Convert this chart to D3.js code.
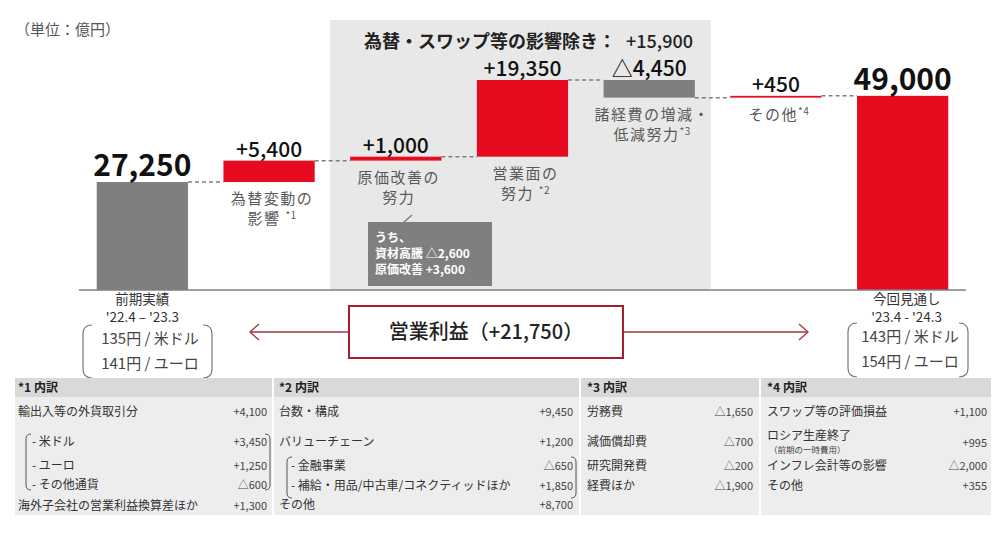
<!DOCTYPE html>
<html><head><meta charset="utf-8">
<script src="https://cdn.jsdelivr.net/npm/d3@7"></script>
<style>
body{margin:0;background:#fff;}
svg{display:block;font-family:"Noto Sans CJK JP","Noto Sans",sans-serif;}
</style>
</head><body><svg id="c" width="1000" height="540"></svg>
<script>
// ---------- data ----------
const categories = ["前期実績","為替変動の影響","原価改善の努力","営業面の努力","諸経費の増減・低減努力","その他","今回見通し"];
const deltas = [27250, 5400, 1000, 19350, -4450, 450, 49000];
const barTypes = ["total","delta","delta","delta","delta","delta","total"];
const valueLabels = ["27,250","+5,400","+1,000","+19,350","△4,450","+450","49,000"];
const catLabelLines = [
  [],
  [["為替変動の",""],["影響 ","*1"]],
  [["原価改善の",""],["努力",""]],
  [["営業面の",""],["努力 ","*2"]],
  [["諸経費の増減・",""],["低減努力","*3"]],
  [["その他","*4"]],
  []
];
const shadedTitle = "為替・スワップ等の影響除き：";
const shadedValue = "+15,900";
const calloutLines = ["うち、","資材高騰 △2,600","原価改善 +3,600"];
const prevLabels = ["前期実績","'22.4 – '23.3"];
const prevRates = ["135円 / 米ドル","141円 / ユーロ"];
const currLabels = ["今回見通し","'23.4 - '24.3"];
const currRates = ["143円 / 米ドル","154円 / ユーロ"];
const profitLabel = "営業利益（+21,750）";
const unitLabel = "（単位：億円）";

const tableTitles = ["*1 内訳","*2 内訳","*3 内訳","*4 内訳"];
const table1 = [["輸出入等の外貨取引分","+4,100",0],["- 米ドル","+3,450",1],["- ユーロ","+1,250",1],["- その他通貨","△600",1],["海外子会社の営業利益換算差ほか","+1,300",0]];
const table2 = [["台数・構成","+9,450",0],["バリューチェーン","+1,200",0],["- 金融事業","△650",1],["- 補給・用品/中古車/コネクティッドほか","+1,850",1],["その他","+8,700",0]];
const table3 = [["労務費","△1,650",0],["減価償却費","△700",0],["研究開発費","△200",0],["経費ほか","△1,900",0]];
const table4 = [["スワップ等の評価損益","+1,100",0],["ロシア生産終了","+995",0],["インフレ会計等の影響","△2,000",0],["その他","+355",0]];
const table4Note = "（前期の一時費用）";

// ---------- layout ----------
const svg = d3.select("#c");
const RED = "#e60b1e", GRAY = "#7f7f7f", TXT = "#595959";
const x = d3.scaleBand().domain(categories).range([79, 966]).paddingInner(0.28).paddingOuter(0.14);
const y = d3.scaleLinear().domain([0, 53000]).range([290, 80]);
const bw = x.bandwidth();

// compute waterfall
let run = 0;
const bars = categories.map((c, i) => {
  let s, e;
  if (barTypes[i] === "total") { s = 0; e = deltas[i]; run = deltas[i]; }
  else { s = run; e = run + deltas[i]; run = e; }
  return {c, i, s, e, v: deltas[i]};
});

// shaded region
const shX0 = x(categories[2]) - 20, shX1 = x(categories[4]) + bw + 16;
svg.append("rect").attr("x", shX0).attr("y", 20).attr("width", shX1 - shX0).attr("height", y(0) - 20).attr("fill", "#e8e8e8");
svg.append("text").attr("x", 364).attr("y", 48).attr("font-size", 18).attr("font-weight", 700).attr("fill", "#222").text(shadedTitle);
svg.append("text").attr("x", 693).attr("y", 48).attr("text-anchor", "end").attr("font-size", 18).attr("font-weight", 500).attr("fill", "#222").text(shadedValue);

// unit
svg.append("text").attr("x", 15).attr("y", 35).attr("font-size", 15).attr("fill", "#555").text(unitLabel);

// connectors
for (let i = 0; i < bars.length - 1; i++) {
  const lvl = bars[i].e;
  svg.append("line").attr("x1", x(bars[i].c) + bw).attr("x2", x(bars[i+1].c))
    .attr("y1", y(lvl)).attr("y2", y(lvl))
    .attr("stroke", GRAY).attr("stroke-width", 1.5).attr("stroke-dasharray", "4,3");
}

// bars
svg.selectAll("rect.bar").data(bars).enter().append("rect").attr("class","bar")
  .attr("x", d => x(d.c)).attr("width", bw)
  .attr("y", d => y(Math.max(d.s, d.e)))
  .attr("height", d => Math.abs(y(d.s) - y(d.e)))
  .attr("fill", d => (d.i === 0 || d.v < 0) ? GRAY : RED);

// baseline
svg.append("line").attr("x1", 79).attr("x2", 966).attr("y1", y(0)).attr("y2", y(0)).attr("stroke", "#7f7f7f").attr("stroke-width", 1.5);

// value labels
svg.selectAll("text.val").data(bars).enter().append("text").attr("class","val")
  .attr("x", d => x(d.c) + bw/2)
  .attr("y", d => y(Math.max(d.s, d.e)) - (barTypes[d.i] === "total" ? 6 : 4))
  .attr("text-anchor", "middle")
  .attr("font-size", d => barTypes[d.i] === "total" ? 30 : 21)
  .attr("font-weight", d => barTypes[d.i] === "total" ? 700 : 500)
  .attr("fill", "#111")
  .text((d) => valueLabels[d.i]);

// category labels below bars
bars.forEach(d => {
  const lines = catLabelLines[d.i];
  const base = y(Math.min(d.s, d.e));
  lines.forEach((ln, k) => {
    const t = svg.append("text").attr("x", x(d.c) + bw/2 + 3).attr("y", base + 22 + k*20)
      .attr("text-anchor", "middle").attr("font-size", 15).attr("letter-spacing", 1.5).attr("fill", TXT);
    t.append("tspan").text(ln[0]);
    if (ln[1]) t.append("tspan").attr("font-size", 10).attr("dy", -5).attr("letter-spacing", 0.5).text(ln[1]);
  });
});

// callout
svg.append("line").attr("x1", 404).attr("y1", 222).attr("x2", 412).attr("y2", 215).attr("stroke", GRAY).attr("stroke-width", 1.5);
svg.append("rect").attr("x", 368).attr("y", 222).attr("width", 124).attr("height", 64).attr("fill", GRAY);
calloutLines.forEach((s, k) => {
  svg.append("text").attr("x", 375).attr("y", 242 + k*16).attr("font-size", 12).attr("font-weight", 700).attr("fill", "#fff").text(s);
});

// bracket helper
function bracket(g, x0, x1, y0, y1, r, stroke, sw) {
  g.append("path").attr("d", `M${x0+r},${y0} Q${x0},${y0} ${x0},${y0+r} L${x0},${y1-r} Q${x0},${y1} ${x0+r},${y1}`)
    .attr("fill","none").attr("stroke",stroke).attr("stroke-width",sw);
  g.append("path").attr("d", `M${x1-r},${y0} Q${x1},${y0} ${x1},${y0+r} L${x1},${y1-r} Q${x1},${y1} ${x1-r},${y1}`)
    .attr("fill","none").attr("stroke",stroke).attr("stroke-width",sw);
}

// prev / current labels
const cx0 = x(categories[0]) + bw/2, cx6 = x(categories[6]) + bw/2;
prevLabels.forEach((s,k) => svg.append("text").attr("x", cx0).attr("y", 304 + k*18).attr("text-anchor","middle").attr("font-size",13.5).attr("fill","#333").text(s));
currLabels.forEach((s,k) => svg.append("text").attr("x", cx6 + 4).attr("y", 304 + k*18).attr("text-anchor","middle").attr("font-size",13.5).attr("fill","#333").text(s));
bracket(svg, 83, 212, 325, 378, 9, "#777", 1.2);
bracket(svg, 848, 968, 323, 377, 9, "#777", 1.2);
prevRates.forEach((s,k) => svg.append("text").attr("x", 150).attr("y", 344 + k*25).attr("text-anchor","middle").attr("font-size",15).attr("fill","#444").text(s));
currRates.forEach((s,k) => svg.append("text").attr("x", 910).attr("y", 342 + k*25).attr("text-anchor","middle").attr("font-size",15).attr("fill","#444").text(s));

// profit box with arrows
const AR = "#a8323f";
svg.append("line").attr("x1", 250).attr("x2", 349).attr("y1", 332).attr("y2", 332).attr("stroke", AR).attr("stroke-width", 1.3);
svg.append("path").attr("d", "M259,324 L250,332 L259,340").attr("fill","none").attr("stroke",AR).attr("stroke-width",1.3);
svg.append("line").attr("x1", 623).attr("x2", 808).attr("y1", 332).attr("y2", 332).attr("stroke", AR).attr("stroke-width", 1.3);
svg.append("path").attr("d", "M799,324 L808,332 L799,340").attr("fill","none").attr("stroke",AR).attr("stroke-width",1.3);
svg.append("rect").attr("x", 349).attr("y", 306).attr("width", 274).attr("height", 52).attr("fill","#fff").attr("stroke","#a51d2d").attr("stroke-width",2);
svg.append("text").attr("x", 486).attr("y", 339).attr("text-anchor","middle").attr("font-size",20).attr("font-weight",500).attr("fill","#222").text(profitLabel);

// tables
const cols = [
  {x0:15, x1:272, tx:18, sx:32, vx:267, rows: table1, ys:[416,446,470,489,510], br:[26,270,434,490]},
  {x0:274, x1:579, tx:279, sx:291, vx:573, rows: table2, ys:[416,446,470,490,509], br:[287,576,457,498]},
  {x0:581, x1:759, tx:587, sx:587, vx:753, rows: table3, ys:[416,446,470,490], br:null},
  {x0:761, x1:991, tx:767, sx:767, vx:987, rows: table4, ys:[416,440,470,490], br:null}
];
cols.forEach((c, ci) => {
  svg.append("rect").attr("x", c.x0).attr("y", 378).attr("width", c.x1 - c.x0).attr("height", 19).attr("fill", "#d9d9d9");
  svg.append("rect").attr("x", c.x0).attr("y", 397).attr("width", c.x1 - c.x0).attr("height", 118).attr("fill", "#ededed");
  svg.append("text").attr("x", c.tx).attr("y", 392).attr("font-size", 12).attr("font-weight", 700).attr("fill", "#222").text(tableTitles[ci]);
  c.rows.forEach((r, k) => {
    svg.append("text").attr("x", r[2] ? c.sx : c.tx).attr("y", c.ys[k]).attr("font-size", 12).attr("fill", "#333").text(r[0]);
    const vy = (ci === 3 && k === 1) ? 447 : c.ys[k];
    svg.append("text").attr("x", c.vx).attr("y", vy).attr("text-anchor","end").attr("font-size", 11).attr("fill", "#444").text(r[1]);
  });
  if (c.br) bracket(svg, c.br[0], c.br[1], c.br[2], c.br[3], 5, "#555", 1);
});
svg.append("text").attr("x", 769).attr("y", 453).attr("font-size", 8.5).attr("fill", "#444").text(table4Note);
</script>
</body></html>
